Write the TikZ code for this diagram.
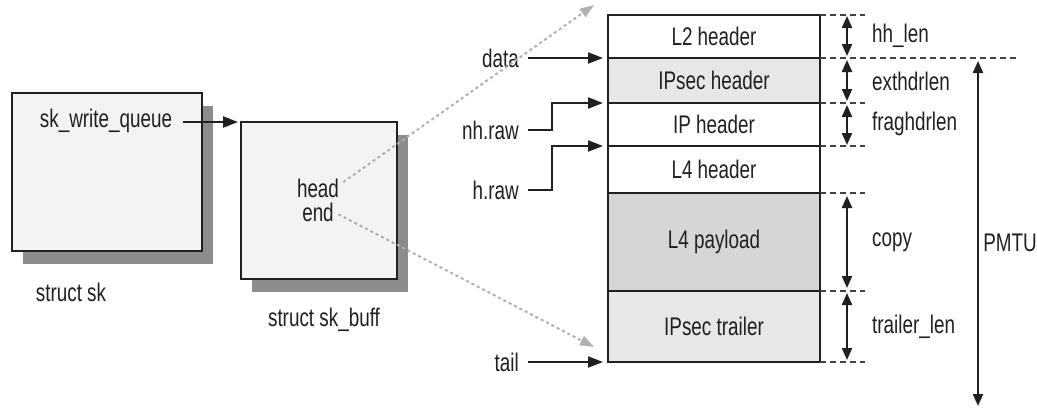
\documentclass[tikz,border=0pt]{standalone}
\usepackage{fontspec}
\setmainfont[FakeStretch=0.74]{Liberation Sans}
\usetikzlibrary{arrows.meta,shadows,backgrounds}
\definecolor{txt}{HTML}{231F20}
\definecolor{boxfill}{HTML}{F3F3F3}
\definecolor{shadowgray}{HTML}{8C8C8C}
\definecolor{lightrow}{HTML}{E7E7E7}
\definecolor{midrow}{HTML}{D6D6D6}
\definecolor{dotgray}{HTML}{B0B0B0}
\begin{document}
\begin{tikzpicture}[x=1pt,y=-1pt,
  every node/.style={font=\fontsize{25.5}{28}\selectfont, text=txt},
  lbl/.style={inner sep=0pt},
  sbox/.style={draw=txt, line width=1.8pt, fill=boxfill, inner sep=0pt, outer sep=0pt,
    drop shadow={shadow xshift=11pt, shadow yshift=-13pt, fill=shadowgray, opacity=1}},
  row/.style={draw=txt, line width=1.8pt, minimum width=212pt, inner sep=0pt, outer sep=0pt, anchor=north},
  arr/.style={line width=2.2pt, draw=txt, -{Triangle[length=15pt,width=11pt]}},
  ptr/.style={line width=2pt, draw=dotgray, dash pattern=on 3pt off 3pt,
    -{Triangle[length=14pt,width=10pt,fill=dotgray]}},
  dline/.style={line width=1.6pt, draw=txt!85, dash pattern=on 6pt off 4pt},
  dbl/.style={line width=2.2pt, draw=txt,
    {Triangle[length=12pt,width=10pt]}-{Triangle[length=12pt,width=10pt]}},
]
\useasboundingbox[fill=white] (0,0) rectangle (1037,410);

% left structures
\node[sbox, minimum width=190pt, minimum height=158pt] (sk) at (107,172) {};
\node[sbox, minimum width=156pt, minimum height=157pt] (skb) at (319,200.5) {};
\node[lbl] (swq) at (106,121) {sk\_write\_queue};
\node[lbl] (head) at (318,188) {head};
\node[lbl] (end) at (318,212) {end};
\node[lbl] (stsk) at (71,292) {struct sk};
\node[lbl] (stskb) at (324,320) {struct sk\_buff};

% packet
\node[row, fill=white,    minimum height=43pt] (l2)  at (714,15)  {L2 header};
\node[row, fill=lightrow, minimum height=45pt] (ips) at (714,58)  {IPsec header};
\node[row, fill=white,    minimum height=43pt] (iph) at (714,103) {IP header};
\node[row, fill=white,    minimum height=47pt] (l4h) at (714,146) {L4 header};
\node[row, fill=midrow,   minimum height=98pt] (pay) at (714,193) {L4 payload};
\node[row, fill=lightrow, minimum height=71pt] (trl) at (714,291) {IPsec trailer};
\begin{pgfonlayer}{background}
\fill[shadowgray] ([shift={(11pt,-13pt)}]l2.north west) rectangle ([shift={(11pt,-13pt)}]trl.south east);
\end{pgfonlayer}

% pointer labels
\node[lbl, anchor=east] (data) at (519,58) {data};
\node[lbl, anchor=east] (nh) at (519,130) {nh.raw};
\node[lbl, anchor=east] (hr) at (519,190) {h.raw};
\node[lbl, anchor=east] (tail) at (519,362) {tail};

% connectors
\draw[arr, shorten <=11pt, shorten >=3pt] (swq.east |- skb.north) -- (skb.north west);
\draw[arr, shorten <=9pt, shorten >=5pt] (data.east) -- (l2.south west);
\draw[arr] ([xshift=9pt]nh.east) -- ([xshift=33pt]nh.east) |- ([xshift=-5pt]iph.north west);
\draw[arr] ([xshift=9pt]hr.east) -- ([xshift=33pt]hr.east) |- ([xshift=-5pt]l4h.north west);
\draw[arr, shorten <=9pt, shorten >=5pt] (tail.east) -- (trl.south west);
\draw[ptr, shorten <=5pt] ([yshift=3pt]head.east) -- ([shift={(-14pt,10pt)}]l2.north west);
\draw[ptr, shorten <=5pt] (end.east) -- ([shift={(-14pt,15pt)}]trl.south west);

% right side dashed boundaries
\draw[dline] (l2.north east) -- ([xshift=45pt]l2.north east);
\draw[dline] (l2.south east) -- ([xshift=197pt]l2.south east);
\draw[dline] (ips.south east) -- ([xshift=45pt]ips.south east);
\draw[dline] (iph.south east) -- ([xshift=45pt]iph.south east);
\draw[dline] (l4h.south east) -- ([xshift=45pt]l4h.south east);
\draw[dline] (pay.south east) -- ([xshift=45pt]pay.south east);
\draw[dline] (trl.south east) -- ([xshift=45pt]trl.south east);

% length arrows
\draw[dbl, shorten <=1pt, shorten >=2pt] ([xshift=27pt]l2.north east) -- ([xshift=27pt]l2.south east);
\draw[dbl, shorten <=2pt, shorten >=2pt] ([xshift=27pt]ips.north east) -- ([xshift=27pt]ips.south east);
\draw[dbl, shorten <=2pt, shorten >=1pt] ([xshift=27pt]iph.north east) -- ([xshift=27pt]iph.south east);
\draw[dbl, shorten <=3pt, shorten >=3pt] ([xshift=27pt]pay.north east) -- ([xshift=27pt]pay.south east);
\draw[dbl, shorten <=2pt, shorten >=2pt] ([xshift=27pt]trl.north east) -- ([xshift=27pt]trl.south east);

\node[lbl, anchor=west] (hh) at ([xshift=52pt,yshift=1pt]l2.east) {hh\_len};
\node[lbl, anchor=west] (ext) at ([xshift=52pt,yshift=-1pt]ips.east) {exthdrlen};
\node[lbl, anchor=west] (frag) at ([xshift=52pt,yshift=1pt]iph.east) {fraghdrlen};
\node[lbl, anchor=west] (cp) at ([xshift=52pt]pay.east) {copy};
\node[lbl, anchor=west] (tl) at ([xshift=52pt]trl.east) {trailer\_len};

% PMTU
\coordinate (pmtuEnd) at (978,406);
\draw[dbl, shorten <=3pt] ([xshift=158pt]l2.south east) -- (pmtuEnd);
\node[lbl] (pmtu) at (1010,243) {PMTU};
\end{tikzpicture}
\end{document}
